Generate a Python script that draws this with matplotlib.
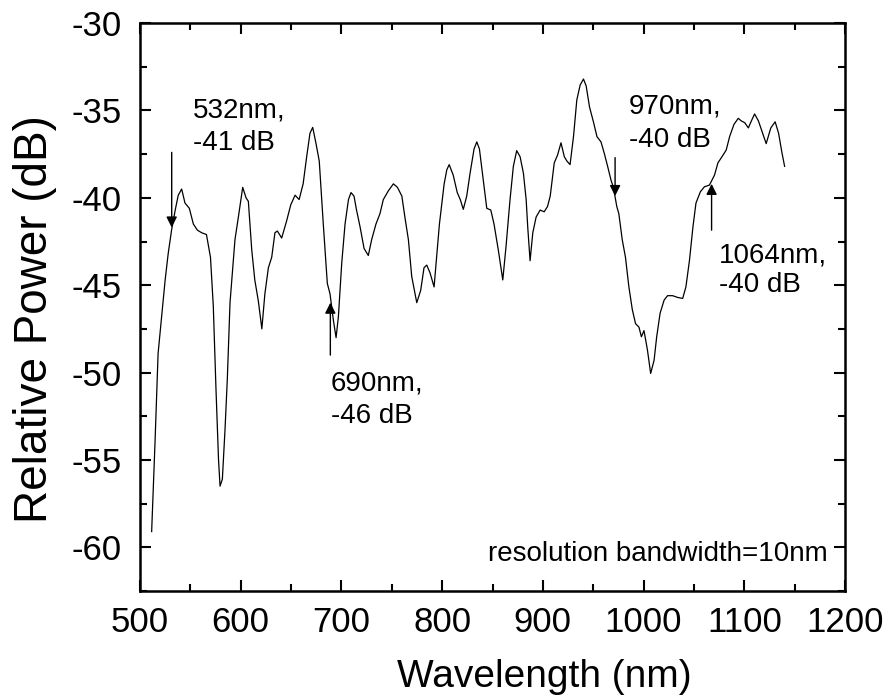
import matplotlib
matplotlib.use("Agg")
import matplotlib.pyplot as plt
from matplotlib.ticker import MultipleLocator

plt.rcParams['font.family'] = ['Liberation Sans', 'DejaVu Sans']
plt.rcParams['axes.unicode_minus'] = False

wavelength = [511.6, 515, 518, 521.5, 525, 528, 531.5, 535, 538, 541.4, 544.7, 549, 553, 557,
              561.3, 566, 570, 572.8, 575.5, 578, 579.5, 581.8, 584.4, 586.7, 589.4, 594.3,
              597.7, 602, 605.3, 607.6, 611, 614, 617.5, 621, 624, 627.5, 630.8, 634, 636.4,
              640.7, 645.7, 649.7, 654, 658, 662, 665.5, 668.8, 671.5, 674.8, 678, 682, 686,
              688.7, 692, 694.7, 697, 700.3, 703.6, 707, 709.5, 712.5, 715, 718.5, 722.5,
              726.7, 730, 734.3, 738.3, 741.6, 746.6, 751.6, 755.6, 760, 763, 766.5, 769.8,
              774.8, 778.7, 782, 784.7, 788, 792, 797.3, 802, 804.6, 807, 811, 815, 818, 821,
              824.4, 827.7, 831.7, 834.4, 837, 840.4, 844.3, 848.3, 851.5, 855.8, 860.2,
              863.4, 867.4, 870.7, 874, 877.4, 880.7, 883.4, 885, 887.3, 890, 893.3, 897.3,
              901.3, 904.6, 907.3, 911.3, 914.6, 918, 921.3, 923.9, 927, 930.4, 933.7, 937,
              940.3, 943, 946.3, 950.4, 953.7, 957.7, 961, 964.3, 967.7, 970, 973.4, 975.4,
              978.8, 982, 985.4, 988.8, 992, 995.4, 997.8, 1000.4, 1003.8, 1007, 1010.4,
              1013, 1016.4, 1020.4, 1023.8, 1028.8, 1033.8, 1038.8, 1042, 1045.5, 1049,
              1052, 1056.4, 1060.4, 1065.4, 1070.4, 1073.8, 1077.8, 1082, 1085.4, 1089.7,
              1094, 1097, 1100.4, 1104, 1107, 1110.2, 1114, 1117, 1121.7, 1126.3, 1130.6,
              1134, 1137.3, 1140]
power = [-59.1, -53.9, -48.9, -46.8, -44.7, -43.2, -41.8, -40.7, -39.85, -39.5, -40.3, -40.6,
         -41.5, -41.85, -42.0, -42.1, -43.4, -46.2, -51.0, -55.0, -56.5, -56.1, -53.3, -50.4,
         -46.0, -42.4, -41.1, -39.4, -40.0, -40.2, -43.0, -44.7, -45.9, -47.5, -45.5, -44.0,
         -43.4, -42.0, -41.9, -42.3, -41.3, -40.4, -39.85, -40.1, -39.2, -37.65, -36.3,
         -35.97, -36.9, -37.9, -41.5, -44.9, -45.5, -47.0, -48.0, -46.8, -43.75, -41.5,
         -40.1, -39.7, -39.9, -40.7, -41.66, -42.9, -43.3, -42.4, -41.5, -40.9, -40.1,
         -39.6, -39.2, -39.4, -39.9, -41.1, -42.4, -44.5, -46.0, -45.3, -44.0, -43.85,
         -44.3, -45.1, -41.5, -39.2, -38.4, -38.1, -38.7, -39.7, -40.1, -40.66, -39.9,
         -38.6, -37.2, -36.8, -37.2, -38.8, -40.6, -40.7, -41.5, -43.0, -44.7, -42.8, -40.1,
         -38.2, -37.3, -37.65, -38.6, -40.1, -41.7, -43.6, -42.0, -41.1, -40.7, -40.8,
         -40.5, -39.9, -38.0, -37.55, -36.85, -37.65, -37.9, -38.1, -36.5, -34.4, -33.55,
         -33.2, -33.6, -34.8, -35.7, -36.5, -36.8, -37.46, -38.2, -39.0, -39.4, -40.5,
         -40.9, -42.4, -43.4, -45.1, -46.4, -47.2, -47.4, -47.95, -47.6, -48.7, -50.05,
         -49.3, -47.95, -46.6, -45.85, -45.6, -45.6, -45.7, -45.76, -45.1, -43.6, -41.66,
         -40.3, -39.65, -39.37, -39.27, -38.7, -38.0, -37.65, -37.27, -36.5, -35.8, -35.45,
         -35.6, -35.7, -36.0, -35.6, -35.2, -35.6, -36.1, -36.9, -36.0, -35.65, -36.3,
         -37.4, -38.2]

x_ticks = [500, 600, 700, 800, 900, 1000, 1100, 1200]
y_ticks = [-60, -55, -50, -45, -40, -35, -30]

fig = plt.figure(figsize=(8.87, 6.99), dpi=100)
ax = fig.add_axes([0.1578, 0.1545, 0.7949, 0.8125])
ax.plot(wavelength, power, color='black', lw=0.9)

ax.set_xlim(500, 1200)
ax.set_ylim(-62.5, -30)
ax.set_xticks(x_ticks)
ax.set_yticks(y_ticks)
ax.xaxis.set_minor_locator(MultipleLocator(50))
ax.yaxis.set_minor_locator(MultipleLocator(2.5))
ax.tick_params(which='both', direction='in', top=True, right=True, width=1.5,
               labelsize=25)
ax.tick_params(axis='x', which='both', pad=11)
ax.tick_params(axis='y', which='both', pad=13)
ax.tick_params(which='major', length=8)
ax.tick_params(which='minor', length=5)
for s in ax.spines.values():
    s.set_linewidth(1.8)

ax.set_xlabel('Wavelength (nm)', fontsize=28)
ax.xaxis.set_label_coords(0.573, -0.12)
ax.set_ylabel('Relative Power (dB)', fontsize=33)
ax.yaxis.set_label_coords(-0.118, 0.479)

fs = 20
ap = dict(arrowstyle='-|>', color='black', lw=1.0, mutation_scale=16, shrinkA=0, shrinkB=0)
# 532 nm
ax.annotate('', xy=(531.5, -41.7), xytext=(531.5, -37.4), arrowprops=ap)
ax.text(552.6, -35.38, '532nm,', fontsize=fs, va='baseline')
ax.text(552.6, -37.27, '-41 dB', fontsize=fs, va='baseline')
# 690 nm
ax.annotate('', xy=(689, -46.0), xytext=(689, -49.0), arrowprops=ap)
ax.text(689.3, -51.0, '690nm,', fontsize=fs, va='baseline')
ax.text(689.3, -52.9, '-46 dB', fontsize=fs, va='baseline')
# 970 nm
ax.annotate('', xy=(971.7, -39.9), xytext=(971.7, -37.7), arrowprops=ap)
ax.text(985.6, -35.15, '970nm,', fontsize=fs, va='baseline')
ax.text(985.6, -37.08, '-40 dB', fontsize=fs, va='baseline')
# 1064 nm
ax.annotate('', xy=(1067.5, -39.2), xytext=(1067.5, -41.85), arrowprops=ap)
ax.text(1075, -43.68, '1064nm,', fontsize=fs, va='baseline')
ax.text(1075, -45.38, '-40 dB', fontsize=fs, va='baseline')

ax.text(1183, -60.8, 'resolution bandwidth=10nm', fontsize=20, ha='right', va='baseline')

fig.savefig('out.png', dpi=100)
